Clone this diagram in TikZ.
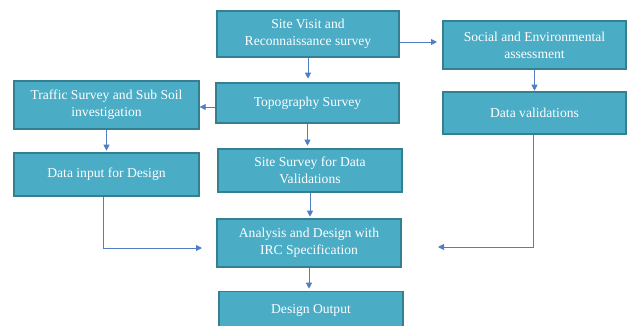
\documentclass[tikz,border=0pt]{standalone}
\usepackage{fontspec}
\setmainfont{Liberation Serif}
\usetikzlibrary{arrows.meta}
\definecolor{boxfill}{HTML}{4BACC6}
\definecolor{boxline}{HTML}{357F92}
\definecolor{flow}{HTML}{4F7EC4}
\tikzset{
  boxtext/.style={text=white, font=\fontsize{13.6}{16.8}\selectfont},
  stepbox/.style={boxtext, draw=boxline, line width=1.4pt, fill=boxfill,
    align=center, inner sep=0pt},
  flowline/.style={draw=flow, line width=0.9pt,
    -{Triangle[length=6pt,width=6pt]}},
}
\begin{document}
\begin{tikzpicture}[x=1pt,y=-1pt]
\useasboundingbox (0,0) rectangle (627,325);
\begin{scope}
\clip (0,0) rectangle (627,325);
% main column
\node[stepbox, minimum width=182pt, minimum height=46pt] (site) at (308,34)
  {Site Visit and\\Reconnaissance survey};
\node[stepbox, minimum width=183pt, minimum height=40pt] (topo) at (307.5,103)
  {Topography Survey};
\node[stepbox, minimum width=184pt, minimum height=43pt] (survey) at (310,170.5)
  {Site Survey for Data\\Validations};
\node[stepbox, minimum width=184pt, minimum height=48pt] (analysis) at (309,243)
  {Analysis and Design with\\IRC Specification};
\node[stepbox, minimum width=184pt, minimum height=44pt, anchor=north] (output) at (311,291)
  {};
\node[boxtext] (outtext) at (311,310) {Design Output};
% left column
\node[stepbox, minimum width=185pt, minimum height=48pt] (traffic) at (106.5,105)
  {Traffic Survey and Sub Soil\\investigation};
\node[stepbox, minimum width=185pt, minimum height=43pt] (datain) at (106.5,174.5)
  {Data input for Design};
% right column
\node[stepbox, minimum width=183pt, minimum height=48pt] (social) at (534.5,45)
  {Social and Environmental\\assessment};
\node[stepbox, minimum width=183pt, minimum height=42pt] (dataval) at (534.5,113)
  {Data validations};
\end{scope}
% connectors
\coordinate (leftin) at (202,248);
\coordinate (rightin) at (438,247);
\draw[flowline] (site.south) -- ++(0,21);
\draw[flowline] (topo.south) -- ++(0,22);
\draw[flowline] (survey.south) -- ++(0,24);
\draw[flowline] (analysis.south) -- ++(0,21);
\draw[flowline] (topo.west |- 0,107) -- (traffic.east |- 0,107);
\draw[flowline] (traffic.south) -- ++(0,21);
\draw[flowline] (social.south) -- ++(0,21);
\draw[flowline] (site.east |- 0,42) -- (437,42);
\draw[flowline] (datain.south -| 103,0) |- (leftin);
\draw[flowline] (dataval.south -| 533,0) |- (rightin);
\end{tikzpicture}
\end{document}
